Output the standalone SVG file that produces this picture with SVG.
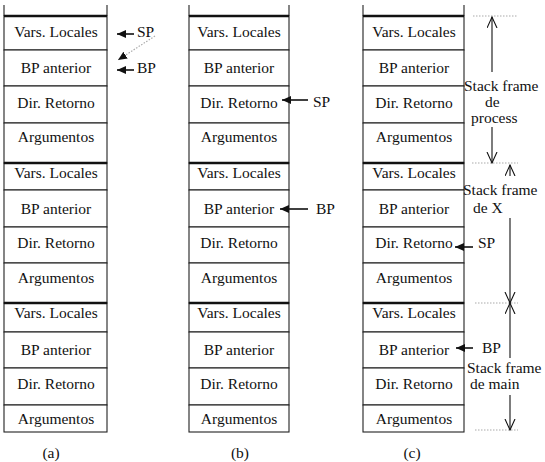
<svg xmlns="http://www.w3.org/2000/svg" width="545" height="462" viewBox="0 0 545 462">
<style>
text{font-family:"Liberation Serif","Times New Roman",serif;font-size:15.5px;fill:#111}
.c{text-anchor:middle}
.cell{fill:#fff;stroke:#222;stroke-width:1.1}
.thick{stroke:#111;stroke-width:2.4}
.side{stroke:#222;stroke-width:1.1}
.arr{stroke:#111;stroke-width:1.6;fill:none}
.vline{stroke:#111;stroke-width:1.1;fill:none}
.dot{stroke:#aaa;stroke-width:1.2;stroke-dasharray:1.5 1.5;fill:none}
</style>
<defs>
<marker id="fh" markerUnits="userSpaceOnUse" markerWidth="10" markerHeight="9" refX="9" refY="4" orient="auto" viewBox="0 0 10 9">
<path d="M0,0 L9,4 L0,8 z" fill="#111"/>
</marker>
<marker id="vh" markerUnits="userSpaceOnUse" markerWidth="13" markerHeight="12" refX="11" refY="5.5" orient="auto" viewBox="0 0 13 12">
<path d="M0,0.5 L11,5.5 L0,10.5" fill="none" stroke="#111" stroke-width="1.1"/>
</marker>
</defs>

<!-- Column (a) -->
<g id="col-a">
<line class="side" x1="4" y1="5" x2="4" y2="16"/><line class="side" x1="107" y1="5" x2="107" y2="16"/>
<g id="a-vars1"><rect class="cell" x="4" y="16" width="103" height="34"/><text class="c" x="56" y="37">Vars. Locales</text></g>
<g id="a-bp1"><rect class="cell" x="4" y="50" width="103" height="36"/><text class="c" x="56" y="73">BP anterior</text></g>
<g id="a-dir1"><rect class="cell" x="4" y="86" width="103" height="37"/><text class="c" x="56" y="108">Dir. Retorno</text></g>
<g id="a-arg1"><rect class="cell" x="4" y="123" width="103" height="40"/><text class="c" x="56" y="142">Argumentos</text></g>
<g id="a-vars2"><rect class="cell" x="4" y="163" width="103" height="27"/><text class="c" x="56" y="178">Vars. Locales</text></g>
<g id="a-bp2"><rect class="cell" x="4" y="190" width="103" height="37"/><text class="c" x="56" y="214">BP anterior</text></g>
<g id="a-dir2"><rect class="cell" x="4" y="227" width="103" height="36"/><text class="c" x="56" y="248">Dir. Retorno</text></g>
<g id="a-arg2"><rect class="cell" x="4" y="263" width="103" height="40"/><text class="c" x="56" y="283">Argumentos</text></g>
<g id="a-vars3"><rect class="cell" x="4" y="303" width="103" height="29"/><text class="c" x="56" y="318">Vars. Locales</text></g>
<g id="a-bp3"><rect class="cell" x="4" y="332" width="103" height="36"/><text class="c" x="56" y="355">BP anterior</text></g>
<g id="a-dir3"><rect class="cell" x="4" y="368" width="103" height="37"/><text class="c" x="56" y="389">Dir. Retorno</text></g>
<g id="a-arg3"><rect class="cell" x="4" y="405" width="103" height="27"/><text class="c" x="56" y="424">Argumentos</text></g>
<line class="thick" x1="4" y1="16" x2="107" y2="16"/><line class="thick" x1="4" y1="163" x2="107" y2="163"/><line class="thick" x1="4" y1="303" x2="107" y2="303"/>
<text class="c" x="51" y="458">(a)</text>
</g>

<!-- Column (b) -->
<g id="col-b">
<line class="side" x1="189" y1="5" x2="189" y2="16"/><line class="side" x1="289" y1="5" x2="289" y2="16"/>
<g id="b-vars1"><rect class="cell" x="189" y="16" width="100" height="34"/><text class="c" x="239" y="37">Vars. Locales</text></g>
<g id="b-bp1"><rect class="cell" x="189" y="50" width="100" height="36"/><text class="c" x="239" y="73">BP anterior</text></g>
<g id="b-dir1"><rect class="cell" x="189" y="86" width="100" height="37"/><text class="c" x="239" y="108">Dir. Retorno</text></g>
<g id="b-arg1"><rect class="cell" x="189" y="123" width="100" height="40"/><text class="c" x="239" y="142">Argumentos</text></g>
<g id="b-vars2"><rect class="cell" x="189" y="163" width="100" height="27"/><text class="c" x="239" y="178">Vars. Locales</text></g>
<g id="b-bp2"><rect class="cell" x="189" y="190" width="100" height="37"/><text class="c" x="239" y="214">BP anterior</text></g>
<g id="b-dir2"><rect class="cell" x="189" y="227" width="100" height="36"/><text class="c" x="239" y="248">Dir. Retorno</text></g>
<g id="b-arg2"><rect class="cell" x="189" y="263" width="100" height="40"/><text class="c" x="239" y="283">Argumentos</text></g>
<g id="b-vars3"><rect class="cell" x="189" y="303" width="100" height="29"/><text class="c" x="239" y="318">Vars. Locales</text></g>
<g id="b-bp3"><rect class="cell" x="189" y="332" width="100" height="36"/><text class="c" x="239" y="355">BP anterior</text></g>
<g id="b-dir3"><rect class="cell" x="189" y="368" width="100" height="37"/><text class="c" x="239" y="389">Dir. Retorno</text></g>
<g id="b-arg3"><rect class="cell" x="189" y="405" width="100" height="27"/><text class="c" x="239" y="424">Argumentos</text></g>
<line class="thick" x1="189" y1="16" x2="289" y2="16"/><line class="thick" x1="189" y1="163" x2="289" y2="163"/><line class="thick" x1="189" y1="303" x2="289" y2="303"/>
<text class="c" x="240" y="458">(b)</text>
</g>

<!-- Column (c) -->
<g id="col-c">
<line class="side" x1="363" y1="5" x2="363" y2="16"/><line class="side" x1="464" y1="5" x2="464" y2="16"/>
<g id="c-vars1"><rect class="cell" x="363" y="16" width="101" height="34"/><text class="c" x="414" y="37">Vars. Locales</text></g>
<g id="c-bp1"><rect class="cell" x="363" y="50" width="101" height="36"/><text class="c" x="414" y="73">BP anterior</text></g>
<g id="c-dir1"><rect class="cell" x="363" y="86" width="101" height="37"/><text class="c" x="414" y="108">Dir. Retorno</text></g>
<g id="c-arg1"><rect class="cell" x="363" y="123" width="101" height="40"/><text class="c" x="414" y="142">Argumentos</text></g>
<g id="c-vars2"><rect class="cell" x="363" y="163" width="101" height="27"/><text class="c" x="414" y="178">Vars. Locales</text></g>
<g id="c-bp2"><rect class="cell" x="363" y="190" width="101" height="37"/><text class="c" x="414" y="214">BP anterior</text></g>
<g id="c-dir2"><rect class="cell" x="363" y="227" width="101" height="36"/><text class="c" x="414" y="248">Dir. Retorno</text></g>
<g id="c-arg2"><rect class="cell" x="363" y="263" width="101" height="40"/><text class="c" x="414" y="283">Argumentos</text></g>
<g id="c-vars3"><rect class="cell" x="363" y="303" width="101" height="29"/><text class="c" x="414" y="318">Vars. Locales</text></g>
<g id="c-bp3"><rect class="cell" x="363" y="332" width="101" height="36"/><text class="c" x="414" y="355">BP anterior</text></g>
<g id="c-dir3"><rect class="cell" x="363" y="368" width="101" height="37"/><text class="c" x="414" y="389">Dir. Retorno</text></g>
<g id="c-arg3"><rect class="cell" x="363" y="405" width="101" height="27"/><text class="c" x="414" y="424">Argumentos</text></g>
<line class="thick" x1="363" y1="16" x2="464" y2="16"/><line class="thick" x1="363" y1="163" x2="464" y2="163"/><line class="thick" x1="363" y1="303" x2="464" y2="303"/>
<text class="c" x="412" y="458">(c)</text>
</g>

<!-- Labels -->
<g id="labels">
<text x="137" y="37">SP</text>
<text x="137" y="73">BP</text>
<text x="313" y="107">SP</text>
<text x="316" y="214">BP</text>
<text x="478" y="248">SP</text>
<text x="482" y="353">BP</text>
<text x="464" y="91">Stack frame</text>
<text x="485" y="107">de</text>
<text x="471" y="123">process</text>
<text x="463" y="195">Stack frame</text>
<text x="473" y="213">de X</text>
<text x="467" y="373">Stack frame</text>
<text x="470" y="389">de main</text>
</g>

<!-- Connectors -->
<g id="connectors">
<line class="arr" x1="134" y1="34" x2="117" y2="34" marker-end="url(#fh)"/>
<line class="arr" x1="134" y1="70" x2="117" y2="70" marker-end="url(#fh)"/>
<line class="dot" x1="155" y1="36" x2="118" y2="60" marker-end="url(#fh)"/>
<line class="arr" x1="308" y1="100" x2="282" y2="100" marker-end="url(#fh)"/>
<line class="arr" x1="308" y1="209" x2="280" y2="209" marker-end="url(#fh)"/>
<line class="arr" x1="473" y1="247" x2="455" y2="247" marker-end="url(#fh)"/>
<line class="arr" x1="473" y1="348" x2="456" y2="348" marker-end="url(#fh)"/>
<line class="dot" x1="473" y1="16" x2="517" y2="16"/>
<line class="dot" x1="472" y1="163" x2="518" y2="163"/>
<line class="dot" x1="475" y1="303" x2="518" y2="303"/>
<line class="dot" x1="475" y1="430" x2="518" y2="430"/>
<line class="vline" x1="492" y1="72" x2="492" y2="17" marker-end="url(#vh)"/>
<line class="vline" x1="492" y1="127" x2="492" y2="163" marker-end="url(#vh)"/>
<line class="vline" x1="510" y1="176" x2="510" y2="165" marker-end="url(#vh)"/>
<line class="vline" x1="510" y1="218" x2="510" y2="303" marker-end="url(#vh)"/>
<line class="vline" x1="510" y1="358" x2="510" y2="303" marker-end="url(#vh)"/>
<line class="vline" x1="510" y1="395" x2="510" y2="430" marker-end="url(#vh)"/>
</g>
</svg>
